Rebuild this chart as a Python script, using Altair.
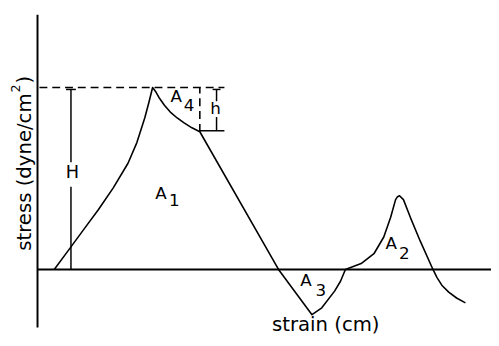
import altair as alt
import pandas as pd

# ---- data (strain / stress in arbitrary diagram units) ----
curve_strain = [17, 34, 48, 62, 77, 92, 101, 109, 113, 117,
                120, 124, 129, 135, 142, 149, 157, 165,
                245, 279,
                289, 302, 308, 313,
                329, 342, 352, 359, 364, 366, 368,
                372, 379, 389, 402, 406, 411, 418, 426, 435]
curve_stress = [0, 23, 42, 61, 83, 108, 129, 154, 169, 185,
                181, 174, 167, 160, 154, 149, 144, 140,
                0, -46,
                -39, -22, -12, 0,
                6, 16, 33, 53, 71, 74, 75,
                71, 53, 29, 0, -8, -16, -23, -29, -34]

# solid guide segments: axis, baseline, H marker (split by label), H tick,
# h marker (split by label), h tick, h box bottom
seg_x = [0, 0, 34, 34, 29, 182, 182, 178, 165]
seg_x2 = [0, 461, 34, 34, 39, 182, 182, 186, 190]
seg_y = [-59, 0, 0, 109, 183, 171, 141, 183, 141]
seg_y2 = [259, 0, 84, 183, 183, 183, 155, 183, 141]
seg_w = [2, 2, 1.5, 1.5, 1.5, 1.5, 1.5, 1.5, 1.5]

# dashed guide segments: H level line and h box side
dash_x = [2, 165]
dash_x2 = [190, 165]
dash_y = [185, 140]
dash_y2 = [185, 185]

# labels (horizontal)
lab_text = ["A", "1", "A", "4", "A", "3", "A", "2", "H", "h", "strain (cm)"]
lab_x = [125.5, 139, 141, 154, 273, 288, 359.5, 373, 35.5, 181, 293]
lab_y = [77, 70, 175, 166, -11.5, -21.5, 26, 16, 97.5, 163, -57]
lab_size = [17, 17, 17, 17, 17, 17, 17, 17, 18, 17, 20]

# y-axis title (rotated) pieces
ylab_text = ["stress (dyne/cm", "2", ")"]
ylab_x = [-13, -22, -13]
ylab_y = [19, 180, 189]
ylab_size = [20, 13, 20]

curve = pd.DataFrame({"strain": curve_strain, "stress": curve_stress,
                      "i": list(range(len(curve_strain)))})
segs = pd.DataFrame({"x": seg_x, "x2": seg_x2, "y": seg_y, "y2": seg_y2, "w": seg_w})
dashes = pd.DataFrame({"x": dash_x, "x2": dash_x2, "y": dash_y, "y2": dash_y2})
labels = pd.DataFrame({"t": lab_text, "x": lab_x, "y": lab_y, "s": lab_size})
ylabels = pd.DataFrame({"t": ylab_text, "x": ylab_x, "y": ylab_y, "s": ylab_size})

xs = alt.Scale(domain=[-30, 461], nice=False, zero=False)
ys = alt.Scale(domain=[-75, 263], nice=False, zero=False)

def X(f):
    return alt.X(f, type="quantitative", scale=xs, axis=None)

def Y(f):
    return alt.Y(f, type="quantitative", scale=ys, axis=None)

line = alt.Chart(curve).mark_line(color="black", strokeWidth=1.6,
                                  strokeJoin="round").encode(
    x=X("strain"), y=Y("stress"), order="i:Q")

solid = alt.Chart(segs).mark_rule(color="black").encode(
    x=X("x"), x2="x2:Q", y=Y("y"), y2="y2:Q",
    strokeWidth=alt.StrokeWidth("w:Q", scale=None))

dashed = alt.Chart(dashes).mark_rule(color="black", strokeWidth=1.6,
                                     strokeDash=[8, 5]).encode(
    x=X("x"), x2="x2:Q", y=Y("y"), y2="y2:Q")

text = alt.Chart(labels).mark_text(font="DejaVu Sans", color="black",
                                   align="center", baseline="middle").encode(
    x=X("x"), y=Y("y"), text="t:N", size=alt.Size("s:Q", scale=None))

ytext = alt.Chart(ylabels).mark_text(font="DejaVu Sans", color="black",
                                     align="left", baseline="middle",
                                     angle=270).encode(
    x=X("x"), y=Y("y"), text="t:N", size=alt.Size("s:Q", scale=None))

chart = alt.layer(line, solid, dashed, text, ytext).properties(
    width=491, height=338,
    autosize=alt.AutoSizeParams(type="none"),
    padding=0,
    background="white",
).configure_view(stroke=None)

chart.save("out.html", embed_options={"renderer": "svg", "actions": False})
